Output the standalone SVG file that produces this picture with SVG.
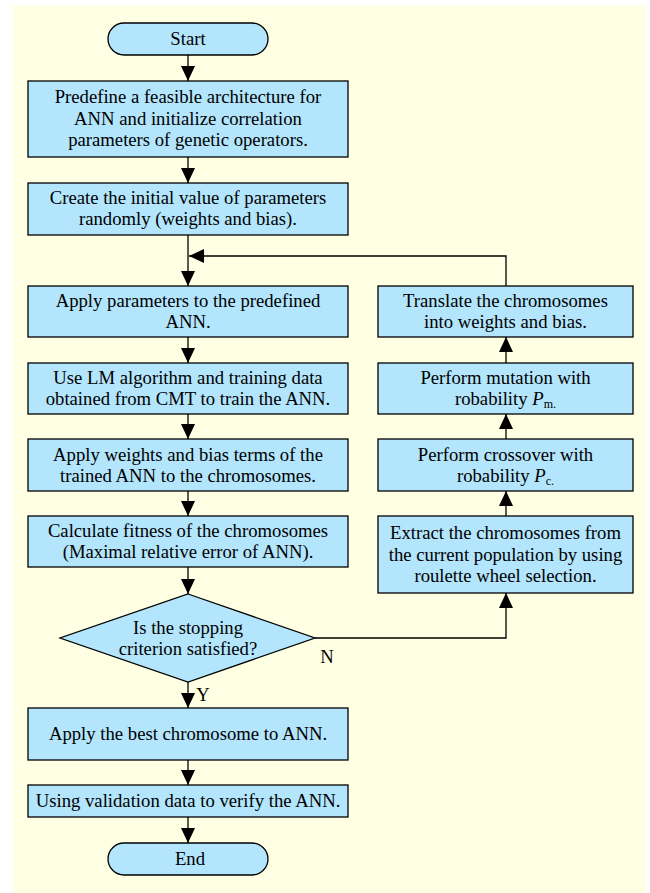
<svg xmlns="http://www.w3.org/2000/svg" width="650" height="893" viewBox="0 0 650 893">
<style>
.box{fill:#b3e5fc;stroke:#000;stroke-width:1.3}
.t{font-size:18.7px;fill:#000;text-anchor:middle}
.sub{font-size:12px}
.c{fill:none;stroke:#000;stroke-width:1.3}
</style>
<defs>
<marker id="ah" markerUnits="userSpaceOnUse" markerWidth="16" markerHeight="14" refX="15" refY="7" orient="auto">
<path d="M0,0 L15,7 L0,14 z" fill="#000"/>
</marker>
</defs>
<rect x="13" y="5" width="633" height="888" fill="#ffffe3"/>
<g font-family="'Liberation Serif', 'Times New Roman', 'DejaVu Serif', serif">
<g id="connectors">
<line class="c" x1="188" y1="55" x2="188" y2="81" marker-end="url(#ah)"/>
<line class="c" x1="188" y1="157" x2="188" y2="183" marker-end="url(#ah)"/>
<line class="c" x1="188" y1="235" x2="188" y2="286" marker-end="url(#ah)"/>
<polyline class="c" points="506,286 506,256 189,256" marker-end="url(#ah)"/>
<line class="c" x1="188" y1="337" x2="188" y2="363" marker-end="url(#ah)"/>
<line class="c" x1="188" y1="414" x2="188" y2="439" marker-end="url(#ah)"/>
<line class="c" x1="188" y1="491" x2="188" y2="516" marker-end="url(#ah)"/>
<line class="c" x1="188" y1="567" x2="188" y2="594" marker-end="url(#ah)"/>
<line class="c" x1="188" y1="682" x2="188" y2="708" marker-end="url(#ah)"/>
<line class="c" x1="188" y1="760" x2="188" y2="785" marker-end="url(#ah)"/>
<line class="c" x1="188" y1="817" x2="188" y2="843" marker-end="url(#ah)"/>
<polyline class="c" points="315,638 506,638 506,593" marker-end="url(#ah)"/>
<line class="c" x1="506" y1="516" x2="506" y2="491" marker-end="url(#ah)"/>
<line class="c" x1="506" y1="439" x2="506" y2="414" marker-end="url(#ah)"/>
<line class="c" x1="506" y1="363" x2="506" y2="337" marker-end="url(#ah)"/>
<text class="t" x="327" y="663">N</text>
<text class="t" x="203" y="701">Y</text>
</g>
<g id="start">
<rect class="box" x="108" y="23" width="160" height="32" rx="16" ry="16"/>
<text class="t" x="188" y="45">Start</text>
</g>
<g id="predefine">
<rect class="box" x="28" y="81" width="320" height="76"/>
<text class="t" x="188" y="103">Predefine a feasible architecture for</text>
<text class="t" x="188" y="124.5">ANN and initialize correlation</text>
<text class="t" x="188" y="146">parameters of genetic operators.</text>
</g>
<g id="create">
<rect class="box" x="28" y="183" width="320" height="52"/>
<text class="t" x="188" y="204">Create the initial value of parameters</text>
<text class="t" x="188" y="225">randomly (weights and bias).</text>
</g>
<g id="apply-params">
<rect class="box" x="28" y="286" width="320" height="51"/>
<text class="t" x="188" y="307">Apply parameters to the predefined</text>
<text class="t" x="188" y="328">ANN.</text>
</g>
<g id="use-lm">
<rect class="box" x="28" y="363" width="320" height="51"/>
<text class="t" x="188" y="384">Use LM algorithm and training data</text>
<text class="t" x="188" y="405">obtained from CMT to train the ANN.</text>
</g>
<g id="apply-weights">
<rect class="box" x="28" y="439" width="320" height="52"/>
<text class="t" x="188" y="460.5">Apply weights and bias terms of the</text>
<text class="t" x="188" y="481.5">trained ANN to the chromosomes.</text>
</g>
<g id="fitness">
<rect class="box" x="28" y="516" width="320" height="51"/>
<text class="t" x="188" y="537">Calculate fitness of the chromosomes</text>
<text class="t" x="188" y="558">(Maximal relative error of ANN).</text>
</g>
<g id="decision">
<polygon class="box" points="188,594 315,638 188,682 60,638"/>
<text class="t" x="188" y="633.5">Is the stopping</text>
<text class="t" x="188" y="654.5">criterion satisfied?</text>
</g>
<g id="apply-best">
<rect class="box" x="28" y="708" width="320" height="52"/>
<text class="t" x="188" y="740">Apply the best chromosome to ANN.</text>
</g>
<g id="validate">
<rect class="box" x="28" y="785" width="320" height="32"/>
<text class="t" x="188" y="807">Using validation data to verify the ANN.</text>
</g>
<g id="end">
<rect class="box" x="108" y="843" width="160" height="32" rx="16" ry="16"/>
<text class="t" x="190" y="865">End</text>
</g>
<g id="translate">
<rect class="box" x="378" y="286" width="255" height="51"/>
<text class="t" x="505.5" y="307">Translate the chromosomes</text>
<text class="t" x="505.5" y="328">into weights and bias.</text>
</g>
<g id="mutation">
<rect class="box" x="378" y="363" width="255" height="51"/>
<text class="t" x="505.5" y="384">Perform mutation with</text>
<text class="t" x="505.5" y="405">robability <tspan font-style="italic">P</tspan><tspan class="sub" dy="3">m.</tspan></text>
</g>
<g id="crossover">
<rect class="box" x="378" y="439" width="255" height="52"/>
<text class="t" x="505.5" y="460.5">Perform crossover with</text>
<text class="t" x="505.5" y="481.5">robability <tspan font-style="italic">P</tspan><tspan class="sub" dy="3">c.</tspan></text>
</g>
<g id="extract">
<rect class="box" x="378" y="516" width="255" height="77"/>
<text class="t" x="505.5" y="539">Extract the chromosomes from</text>
<text class="t" x="505.5" y="560.5">the current population by using</text>
<text class="t" x="505.5" y="582">roulette wheel selection.</text>
</g>
</g>
</svg>
